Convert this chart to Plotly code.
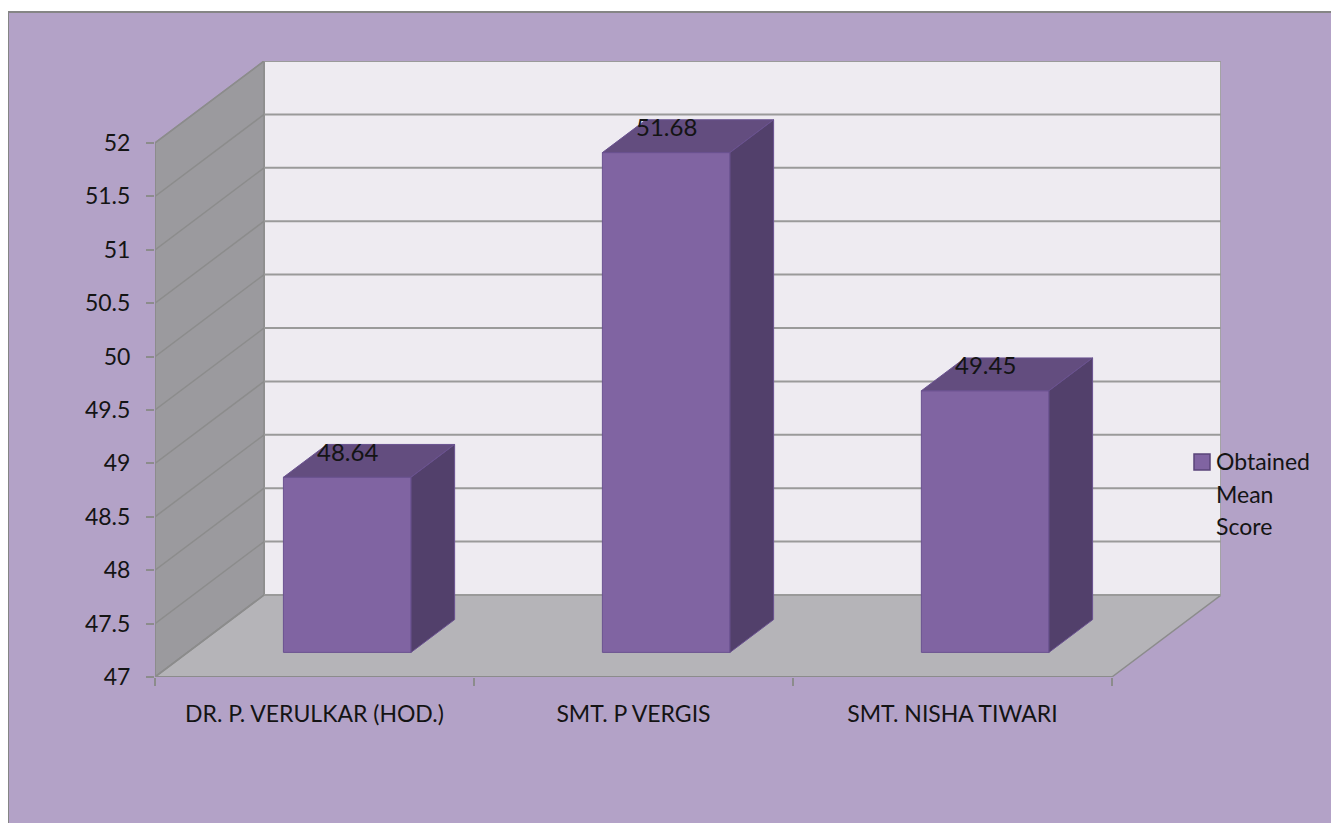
import plotly.graph_objects as go

# ---------------- data ----------------
categories = ["DR. P. VERULKAR (HOD.)", "SMT. P VERGIS", "SMT. NISHA TIWARI"]
scores = [48.64, 51.68, 49.45]
series_name_lines = ["Obtained", "Mean", "Score"]
y_ticks = [47, 47.5, 48, 48.5, 49, 49.5, 50, 50.5, 51, 51.5, 52]
y_tick_labels = ["47", "47.5", "48", "48.5", "49", "49.5", "50", "50.5", "51", "51.5", "52"]

# ---------------- geometry / style ----------------
OFF = 8                         # page body margin of the html page
W, H = 1339 - OFF, 823 - OFF
ML, MT = 155 - OFF, 61 - OFF
MR = W - (1221 - OFF)
MB = H - (677 - OFF)
Y_MIN, Y_MAX = y_ticks[0], y_ticks[-1]
DX, DY = 0.342, 0.768          # oblique depth offset (axis units)
BAR_W = 0.4
D0, D1 = 0.3, 0.7              # bar front / back depth fraction
n = len(categories)
X_L, X_R = -0.5, n - 0.5

FONT = "Lato"
FS = 23
TXT = "#141414"
BG = "#b3a2c7"
BACK_WALL = "#eeebf1"
SIDE_WALL = "#9b9a9e"
FLOOR = "#b5b4b8"
GRID = "#9a9a9a"
EDGE = "#8c8c8c"
BAR_FRONT = "#8064a2"
BAR_TOP = "#634d7f"
BAR_SIDE = "#52406b"
BAR_EDGE = "#6a5290"

PW = W - ML - MR
PH = H - MT - MB


def px_x(p):
    return (p - OFF - ML) / PW


def px_y(p):
    return (H - MB - (p - OFF)) / PH


def path(pts):
    return "M " + " L ".join(f"{x},{y}" for x, y in pts) + " Z"


shapes = []
# chart background with border
shapes.append(dict(type="rect", xref="paper", yref="paper",
                   x0=px_x(8), x1=px_x(1337), y0=px_y(840), y1=px_y(12),
                   fillcolor=BG, line=dict(color="#858585", width=2), layer="below"))

# walls
back = [(X_L + DX, Y_MIN + DY), (X_R + DX, Y_MIN + DY), (X_R + DX, Y_MAX + DY), (X_L + DX, Y_MAX + DY)]
left = [(X_L, Y_MIN), (X_L + DX, Y_MIN + DY), (X_L + DX, Y_MAX + DY), (X_L, Y_MAX)]
floor = [(X_L, Y_MIN), (X_R, Y_MIN), (X_R + DX, Y_MIN + DY), (X_L + DX, Y_MIN + DY)]
for pts, col in [(back, BACK_WALL), (left, SIDE_WALL), (floor, FLOOR)]:
    shapes.append(dict(type="path", xref="x", yref="y", path=path(pts),
                       fillcolor=col, line=dict(color=EDGE, width=1.5), layer="below"))

# gridlines on back wall + diagonals on side wall
for t in y_ticks:
    shapes.append(dict(type="line", xref="x", yref="y", x0=X_L + DX, x1=X_R + DX,
                       y0=t + DY, y1=t + DY, line=dict(color=GRID, width=2), layer="below"))
    shapes.append(dict(type="line", xref="x", yref="y", x0=X_L, x1=X_L + DX,
                       y0=t, y1=t + DY, line=dict(color=EDGE, width=1.5), layer="below"))

# front axis lines
shapes.append(dict(type="line", xref="x", yref="y", x0=X_L, x1=X_L, y0=Y_MIN, y1=Y_MAX,
                   line=dict(color=EDGE, width=2), layer="below"))
shapes.append(dict(type="line", xref="x", yref="y", x0=X_L, x1=X_R, y0=Y_MIN, y1=Y_MIN,
                   line=dict(color=EDGE, width=2), layer="below"))

fig = go.Figure()

# bar front faces
xc = [i + D0 * DX for i in range(n)]
fig.add_trace(go.Bar(
    x=xc, y=[v - Y_MIN for v in scores], base=Y_MIN + D0 * DY, width=BAR_W,
    marker=dict(color=BAR_FRONT, line=dict(color=BAR_EDGE, width=1)),
    showlegend=False, hoverinfo="skip"))

# top and side faces
top_x, top_y, side_x, side_y = [], [], [], []
ddx = (D1 - D0) * DX
ddy = (D1 - D0) * DY
for i, v in enumerate(scores):
    x0 = xc[i] - BAR_W / 2
    x1 = xc[i] + BAR_W / 2
    t0 = v + D0 * DY
    b0 = Y_MIN + D0 * DY
    top_x += [x0, x1, x1 + ddx, x0 + ddx, x0, None]
    top_y += [t0, t0, t0 + ddy, t0 + ddy, t0, None]
    side_x += [x1, x1, x1 + ddx, x1 + ddx, x1, None]
    side_y += [b0, t0, t0 + ddy, b0 + ddy, b0, None]
fig.add_trace(go.Scatter(x=top_x, y=top_y, mode="lines", fill="toself", fillcolor=BAR_TOP,
                         line=dict(color=BAR_EDGE, width=1), showlegend=False, hoverinfo="skip"))
fig.add_trace(go.Scatter(x=side_x, y=side_y, mode="lines", fill="toself", fillcolor=BAR_SIDE,
                         line=dict(color=BAR_EDGE, width=1), showlegend=False, hoverinfo="skip"))

annotations = []
for i, v in enumerate(scores):
    annotations.append(dict(x=xc[i], y=v + D0 * DY, xref="x", yref="y", text=f"{v:.2f}",
                            showarrow=False, yshift=26, font=dict(family=FONT, size=FS + 1, color=TXT)))

# legend (manual)
shapes.append(dict(type="rect", xref="paper", yref="paper",
                   x0=px_x(1194), x1=px_x(1210), y0=px_y(470), y1=px_y(454),
                   fillcolor=BAR_FRONT, line=dict(color="#5a447a", width=1.5)))
for k, line in enumerate(series_name_lines):
    annotations.append(dict(x=px_x(1214), y=px_y(461 + 32.5 * k), xref="paper", yref="paper",
                            text=line, showarrow=False, xanchor="left", yanchor="middle",
                            font=dict(family=FONT, size=FS, color=TXT)))

fig.update_layout(
    width=W, height=H,
    margin=dict(l=ML, r=MR, t=MT, b=MB, pad=0),
    paper_bgcolor="white", plot_bgcolor="rgba(0,0,0,0)",
    shapes=shapes, annotations=annotations, showlegend=False,
    font=dict(family=FONT, size=FS, color=TXT),
    xaxis=dict(range=[X_L, X_R + DX], tickvals=list(range(n)), ticktext=categories,
               showgrid=False, zeroline=False, showline=False, ticks="",
               ticklabelstandoff=21,
               tickfont=dict(family=FONT, size=FS, color=TXT),
               minor=dict(tick0=X_L, dtick=1, ticks="outside", ticklen=8,
                          tickwidth=2, tickcolor=EDGE, showgrid=False)),
    yaxis=dict(range=[Y_MIN, Y_MAX + DY], tickvals=y_ticks, ticktext=y_tick_labels,
               showgrid=False, zeroline=False, showline=False,
               ticks="outside", ticklen=8, tickwidth=2, tickcolor=EDGE,
               ticklabelstandoff=11,
               tickfont=dict(family=FONT, size=FS, color=TXT)),
)

fig.write_html("out.html")
